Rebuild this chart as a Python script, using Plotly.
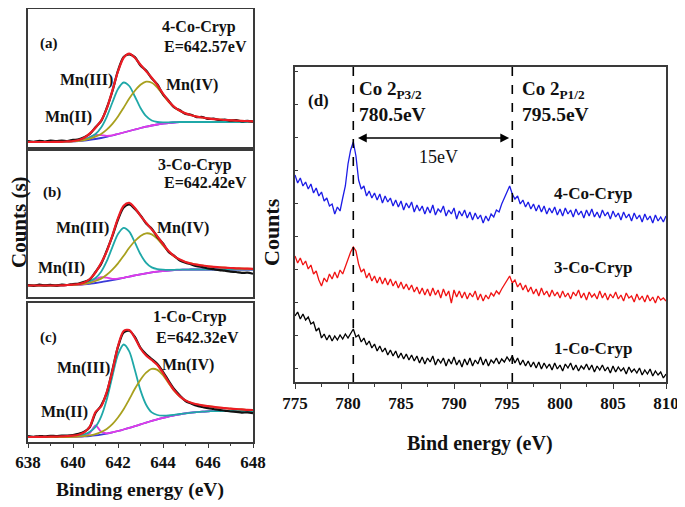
import plotly.graph_objects as go

# ---------------- Mn 2p3/2 panels (a,b,c) : 638..648 eV, step 0.25 ----------------
E_MN_START, E_MN_STEP = 638.0, 0.25

bg_a = [5.0, 5.0, 5.0, 5.0, 5.0, 5.1, 5.2, 5.4, 5.6, 6.0, 6.5, 7.2, 8.0, 9.0, 10.2, 11.5, 13.0, 14.5, 16.0, 17.5,
        19.0, 20.3, 21.5, 22.5, 23.3, 24.0, 24.5, 24.8, 25.0, 25.0, 25.0, 25.0, 25.0, 25.0, 25.0, 25.0, 25.0, 25.0, 25.0, 25.0, 25.0]
mn2_a = [5.0, 5.0, 5.0, 5.0, 5.0, 5.1, 5.2, 5.4, 5.6, 6.2, 7.5, 10.0, 12.0, 11.8, 11.2, 11.7, 13.0, 14.5, 16.0, 17.5,
         19.0, 20.3, 21.5, 22.5, 23.3, 24.0, 24.5, 24.8, 25.0, 25.0, 25.0, 25.0, 25.0, 25.0, 25.0, 25.0, 25.0, 25.0, 25.0, 25.0, 25.0]
mn3_a = [5.0, 5.0, 5.0, 5.0, 5.0, 5.1, 5.2, 5.6, 5.9, 6.6, 7.8, 9.7, 13.0, 19.5, 30.2, 44.5, 58.0, 64.5, 61.0, 50.5,
         39.0, 30.8, 26.5, 25.0, 24.6, 24.6, 24.8, 25.0, 25.0, 25.0, 25.0, 25.0, 25.0, 25.0, 25.0, 25.0, 25.0, 25.0, 25.0, 25.0, 25.0]
mn4_a = [5.0, 5.0, 5.0, 5.0, 5.0, 5.1, 5.2, 5.4, 5.7, 6.2, 7.0, 8.3, 10.3, 13.1, 17.4, 23.2, 30.6, 39.3, 48.4, 56.2,
         62.2, 65.3, 64.3, 59.4, 52.1, 45.2, 39.8, 36.1, 33.6, 31.8, 30.4, 29.5, 28.6, 27.9, 27.5, 27.0, 26.7, 26.4, 26.1, 25.9, 25.7]
fit_a = [5.0, 5.0, 5.0, 5.0, 5.0, 5.1, 5.2, 5.6, 6.0, 7.0, 9.3, 13.6, 19.3, 26.4, 38.4, 56.4, 75.6, 89.3, 93.4, 89.2,
         82.2, 75.8, 69.3, 61.9, 53.4, 45.8, 40.1, 36.2, 33.6, 31.8, 30.4, 29.5, 28.6, 27.9, 27.5, 27.0, 26.7, 26.4, 26.1, 25.9, 25.7]
raw_a = [6.0, 5.2, 6.1, 5.5, 6.3, 5.8, 6.5, 6.0, 7.1, 7.6, 9.8, 13.1, 19.8, 25.9, 39.0, 55.8, 76.3, 90.1, 92.6, 89.8,
         81.5, 76.4, 68.6, 62.5, 52.7, 46.4, 39.5, 36.8, 33.0, 32.3, 29.8, 30.0, 28.1, 28.3, 27.0, 27.4, 26.3, 26.8, 25.6, 26.2, 25.3]

bg_b = [11.5, 11.5, 11.5, 11.5, 11.5, 11.5, 11.6, 11.8, 12.0, 12.2, 12.6, 13.2, 14.0, 14.8, 15.8, 16.9, 18.0, 19.2, 20.4, 21.6,
        22.7, 23.7, 24.6, 25.4, 26.0, 26.5, 26.9, 27.2, 27.4, 27.5, 27.5, 27.5, 27.5, 27.5, 27.5, 27.5, 27.5, 27.5, 27.5, 27.5, 27.5]
mn2_b = [11.5, 11.5, 11.5, 11.5, 11.5, 11.5, 11.6, 11.8, 12.0, 12.2, 12.9, 14.5, 17.5, 19.8, 19.3, 18.2, 18.3, 19.2, 20.4, 21.6,
         22.7, 23.7, 24.6, 25.4, 26.0, 26.5, 26.9, 27.2, 27.4, 27.5, 27.5, 27.5, 27.5, 27.5, 27.5, 27.5, 27.5, 27.5, 27.5, 27.5, 27.5]
mn3_b = [11.5, 11.5, 11.5, 11.5, 11.5, 11.5, 11.6, 12.0, 12.3, 12.8, 13.9, 15.7, 19.0, 25.3, 35.8, 49.9, 63.0, 69.2, 65.4, 54.6,
         42.7, 34.2, 29.6, 27.9, 27.3, 27.1, 27.2, 27.4, 27.4, 27.5, 27.5, 27.5, 27.5, 27.5, 27.5, 27.5, 27.5, 27.5, 27.5, 27.5, 27.5]
mn4_b = [11.5, 11.5, 11.5, 11.5, 11.5, 11.5, 11.6, 11.8, 12.1, 12.4, 13.1, 14.2, 16.0, 18.4, 22.2, 27.3, 33.6, 41.2, 49.2, 56.0,
         61.1, 63.7, 62.6, 58.2, 51.6, 45.3, 40.5, 37.2, 35.0, 33.5, 32.3, 31.5, 30.7, 30.1, 29.7, 29.3, 29.0, 28.7, 28.5, 28.3, 28.1]
fit_b = [11.5, 11.5, 11.5, 11.5, 11.5, 11.5, 11.6, 12.0, 12.4, 13.0, 14.6, 18.0, 24.5, 33.9, 45.7, 61.6, 78.9, 91.2, 94.2, 89.0,
         81.1, 74.2, 67.6, 60.7, 52.9, 45.9, 40.8, 37.4, 35.0, 33.5, 32.3, 31.5, 30.7, 30.1, 29.7, 29.3, 29.0, 28.7, 28.5, 28.3, 28.1]
raw_b = [12.0, 11.2, 12.3, 11.6, 12.1, 11.4, 12.4, 12.0, 13.0, 13.4, 15.1, 17.6, 25.0, 33.1, 46.3, 60.8, 77.5, 89.6, 92.5, 88.1,
         81.6, 73.5, 68.3, 60.0, 53.5, 45.1, 41.2, 36.5, 34.2, 32.6, 30.8, 29.9, 28.6, 27.8, 26.9, 26.3, 25.4, 25.0, 24.1, 24.3, 23.2]

bg_c = [5.0, 5.0, 5.0, 5.0, 5.0, 5.0, 5.0, 5.0, 5.1, 5.3, 5.6, 6.0, 6.6, 7.4, 8.4, 9.6, 11.0, 12.5, 14.1, 15.8,
        17.6, 19.4, 21.1, 22.7, 24.2, 25.5, 26.7, 27.7, 28.6, 29.3, 29.9, 30.4, 30.7, 30.9, 31.0, 31.0, 31.0, 31.0, 31.0, 31.0, 31.0]
mn2_c = [5.0, 5.0, 5.0, 5.0, 5.0, 5.0, 5.0, 5.0, 5.1, 5.3, 5.9, 9.0, 16.6, 10.4, 8.7, 9.6, 11.0, 12.5, 14.1, 15.8,
         17.6, 19.4, 21.1, 22.7, 24.2, 25.5, 26.7, 27.7, 28.6, 29.3, 29.9, 30.4, 30.7, 30.9, 31.0, 31.0, 31.0, 31.0, 31.0, 31.0, 31.0]
mn3_c = [5.0, 5.0, 5.0, 5.0, 5.0, 5.0, 5.0, 5.3, 5.6, 6.3, 7.7, 10.3, 15.1, 25.3, 42.4, 65.7, 87.5, 97.5, 90.6, 71.9,
         51.6, 37.3, 29.6, 27.0, 26.3, 26.5, 27.2, 28.0, 28.6, 29.3, 29.9, 30.4, 30.7, 30.9, 31.0, 31.0, 31.0, 31.0, 31.0, 31.0, 31.0]
mn4_c = [5.0, 5.0, 5.0, 5.0, 5.0, 5.0, 5.0, 5.0, 5.1, 5.4, 5.9, 6.6, 7.9, 10.0, 13.1, 17.9, 24.5, 32.8, 42.7, 53.2,
         62.3, 69.3, 73.1, 72.1, 66.8, 58.8, 51.1, 45.4, 41.6, 39.2, 37.7, 36.6, 35.9, 35.1, 34.4, 33.9, 33.3, 32.9, 32.6, 32.2, 32.0]
fit_c = [5.0, 5.0, 5.1, 5.2, 5.3, 5.4, 5.6, 5.8, 6.3, 7.3, 9.6, 15.5, 30.0, 35.5, 50.0, 71.0, 96.0, 111.0, 112.0, 104.0,
         93.5, 86.5, 82.0, 77.0, 69.0, 60.0, 51.6, 45.7, 41.6, 39.2, 37.7, 36.6, 35.9, 35.1, 34.4, 33.9, 33.3, 32.9, 32.6, 32.2, 32.0]
raw_c = [5.8, 5.1, 6.0, 5.6, 6.2, 5.9, 6.4, 6.5, 7.0, 8.1, 10.2, 15.0, 29.0, 36.5, 49.2, 72.0, 95.1, 109.5, 111.2, 105.0,
         94.2, 87.8, 83.0, 78.1, 70.2, 61.2, 52.8, 46.5, 41.0, 38.5, 36.2, 35.0, 33.8, 33.0, 32.1, 31.4, 30.5, 30.2, 29.4, 29.6, 28.8]

mn_ticks = [638, 640, 642, 644, 646, 648]

# ---------------- Co 2p panel (d) : 775..810 eV, step 0.25 ----------------
E_CO_START, E_CO_STEP = 775.0, 0.25

co_4 = [207, 199, 204, 196, 200, 193, 198, 189,
        194, 186, 190, 181, 184, 176, 178, 168,
        175, 171, 184, 196, 218, 232, 240, 226,
        202, 193, 196, 186, 191, 184, 189, 182,
        188, 179, 186, 180, 184, 176, 182, 175,
        181, 172, 179, 174, 180, 170, 177, 171,
        176, 168, 175, 169, 177, 167, 173, 170,
        176, 166, 172, 168, 174, 163, 171, 166,
        172, 164, 170, 162, 169, 163, 167, 159,
        166, 161, 168, 165, 172, 170, 178, 185,
        190, 196, 188, 183, 186, 178, 182, 175,
        180, 173, 178, 171, 177, 170, 176, 168,
        174, 169, 175, 167, 173, 166, 174, 168,
        172, 165, 173, 167, 171, 164, 172, 166,
        173, 165, 170, 164, 172, 166, 170, 163,
        171, 165, 169, 162, 170, 164, 168, 161,
        169, 163, 167, 160, 168, 162, 166, 159,
        167, 161, 165, 160, 166]
co_3 = [126, 119, 124, 117, 121, 113, 117, 108,
        111, 102, 96, 104, 100, 108, 103, 110,
        104, 112, 108, 116, 122, 130, 135, 131,
        118, 110, 113, 104, 109, 101, 106, 99,
        105, 98, 104, 97, 103, 96, 101, 94,
        100, 93, 98, 92, 97, 90, 95, 88,
        94, 87, 93, 86, 94, 87, 92, 84,
        93, 86, 91, 79, 92, 85, 91, 84,
        90, 83, 89, 85, 91, 82, 88, 81,
        87, 83, 89, 86, 91, 88, 93, 97,
        101, 106, 99, 102, 95, 99, 92, 97,
        90, 95, 88, 93, 86, 94, 87, 91,
        85, 92, 86, 90, 84, 91, 85, 89,
        83, 90, 86, 92, 84, 89, 82, 90,
        85, 88, 83, 91, 84, 89, 82, 88,
        84, 90, 83, 87, 81, 89, 84, 86,
        80, 88, 82, 86, 80, 87, 81, 85,
        79, 86, 82, 84, 81]
co_1 = [66, 70, 63, 68, 62, 65, 58, 60,
        51, 54, 44, 48, 42, 47, 41, 46,
        42, 47, 43, 48, 44, 49, 53, 45,
        47, 40, 44, 37, 41, 34, 38, 31,
        36, 30, 34, 27, 32, 26, 31, 24,
        29, 23, 28, 22, 27, 21, 26, 19,
        25, 18, 24, 20, 26, 17, 23, 19,
        24, 16, 23, 18, 25, 17, 22, 15,
        23, 17, 24, 16, 22, 18, 25, 17,
        23, 16, 22, 19, 24, 18, 23, 20,
        25, 21, 26, 19, 24, 17, 22, 16,
        21, 15, 20, 14, 20, 13, 19, 14,
        18, 12, 19, 13, 17, 11, 18, 14,
        19, 12, 17, 11, 16, 13, 18, 12,
        17, 10, 16, 12, 17, 11, 15, 9,
        16, 10, 15, 11, 14, 8, 15, 10,
        13, 9, 14, 7, 12, 8, 13, 6,
        11, 7, 10, 4, 8]
co_peaks = [780.5, 795.5]
co_ticks = [775, 780, 785, 790, 795, 800, 805, 810]

e_mn = [E_MN_START + E_MN_STEP * i for i in range(len(raw_a))]
e_co = [E_CO_START + E_CO_STEP * i for i in range(len(co_4))]

FONT = "Liberation Serif"
C_BG, C_MN2, C_MN3, C_MN4, C_RAW, C_FIT = "#3a3ad8", "#e23ae8", "#1fa8a8", "#a8a01e", "#111111", "#ec1c24"

fig = go.Figure()
panels = [
    ("", bg_a, mn2_a, mn3_a, mn4_a, raw_a, fit_a),
    ("2", bg_b, mn2_b, mn3_b, mn4_b, raw_b, fit_b),
    ("3", bg_c, mn2_c, mn3_c, mn4_c, raw_c, fit_c),
]
for suf, bg, m2, m3, m4, raw, fit in panels:
    xa, ya = "x" + suf, "y" + suf
    for ys, col, w in [(bg, C_BG, 1.8), (m2, C_MN2, 1.8), (m3, C_MN3, 1.8), (m4, C_MN4, 1.8),
                       (raw, C_RAW, 2.2), (fit, C_FIT, 2.2)]:
        fig.add_trace(go.Scatter(x=e_mn, y=ys, mode="lines", xaxis=xa, yaxis=ya,
                                 line=dict(color=col, width=w, shape="spline", smoothing=0.8),
                                 showlegend=False, hoverinfo="skip"))

for ys, col in [(co_4, "#1c1ce6"), (co_3, "#f01414"), (co_1, "#000000")]:
    fig.add_trace(go.Scatter(x=e_co, y=ys, mode="lines", xaxis="x4", yaxis="y4",
                             line=dict(color=col, width=1.3), showlegend=False, hoverinfo="skip"))

# the page puts the figure 8 px from the window's top-left corner
OFF = 8
W, H = 685 - OFF, 507 - OFF
def clamp(v):
    return max(0.0, min(1.0, v))
def px_x(a, b):
    return [clamp((a - OFF) / W), clamp((b - OFF) / W)]
def px_y(top, bot):
    return [clamp(1 - (bot - OFF) / H), clamp(1 - (top - OFF) / H)]

frame = dict(showline=True, linecolor="#3a3a3a", linewidth=1.5, mirror=True, zeroline=False,
             showgrid=False, automargin=False)
tickfont = dict(family=FONT, size=17, color="#111", weight="bold")

lx = px_x(28, 253)
fig.update_layout(
    width=W, height=H, margin=dict(l=0, r=0, t=0, b=0, pad=0, autoexpand=False),
    paper_bgcolor="white", plot_bgcolor="white", showlegend=False,
    xaxis=dict(domain=lx, range=[638, 648], anchor="y", showticklabels=False, ticks="", **frame),
    yaxis=dict(domain=px_y(9, 147), range=[0, 138], anchor="x", showticklabels=False, ticks="", **frame),
    xaxis2=dict(domain=lx, range=[638, 648], anchor="y2", showticklabels=False, ticks="", **frame),
    yaxis2=dict(domain=px_y(151, 297), range=[0, 146], anchor="x2", showticklabels=False, ticks="", **frame),
    xaxis3=dict(domain=lx, range=[638, 648], anchor="y3", tickvals=mn_ticks,
                ticktext=["<b>%d</b>" % t for t in mn_ticks], ticks="outside", ticklen=4,
                tickcolor="#3a3a3a", tickfont=tickfont,
                minor=dict(dtick=1, ticks="outside", ticklen=2, tickcolor="#3a3a3a"), **frame),
    yaxis3=dict(domain=px_y(303, 442), range=[0, 139], anchor="x3", showticklabels=False, ticks="", **frame),
    xaxis4=dict(domain=px_x(295, 666), range=[775, 810], anchor="y4", tickvals=co_ticks,
                ticktext=["<b>%d</b>" % t for t in co_ticks], ticks="outside",
                ticklen=5, tickcolor="#3a3a3a", tickfont=tickfont,
                minor=dict(dtick=2.5, ticks="outside", ticklen=3, tickcolor="#3a3a3a"), **frame),
    yaxis4=dict(domain=px_y(67, 382), range=[0, 315], anchor="x4", showticklabels=False, ticks="inside",
                ticklen=3, tickcolor="#3a3a3a", tick0=14, dtick=33, **frame),
)

for xv in co_peaks:
    fig.add_shape(type="line", x0=xv, x1=xv, y0=0, y1=1, xref="x4", yref="y4 domain",
                  line=dict(color="black", width=1.6, dash="dash"))

def ann(text, x, y, xr, yr, size=16, anchor="center", bold=True):
    fig.add_annotation(text=("<b>%s</b>" % text) if bold else text, x=x, y=y, xref=xr, yref=yr,
                       showarrow=False, xanchor=anchor, yanchor="middle",
                       font=dict(family=FONT, size=size, color="#111"))

# panel (a)
ann("(a)", 638.95, 104, "x", "y", 15)
ann("4-Co-Cryp", 645.6, 120, "x", "y")
ann("E=642.57eV", 645.9, 101, "x", "y")
ann("Mn(III)", 640.6, 67, "x", "y")
ann("Mn(IV)", 645.3, 62, "x", "y")
ann("Mn(II)", 639.8, 30, "x", "y")
# panel (b)
ann("(b)", 639.05, 104, "x2", "y2", 15)
ann("3-Co-Cryp", 645.4, 132, "x2", "y2")
ann("E=642.42eV", 645.9, 114, "x2", "y2")
ann("Mn(III)", 640.4, 69, "x2", "y2")
ann("Mn(IV)", 644.9, 69, "x2", "y2")
ann("Mn(II)", 639.5, 29, "x2", "y2")
# panel (c)
ann("(c)", 638.9, 105, "x3", "y3", 15)
ann("1-Co-Cryp", 645.2, 125, "x3", "y3")
ann("E=642.32eV", 645.55, 105, "x3", "y3")
ann("Mn(III)", 640.45, 74, "x3", "y3")
ann("Mn(IV)", 645.1, 77, "x3", "y3")
ann("Mn(II)", 639.6, 30, "x3", "y3")
# panel (d)
ann("(d)", 777.2, 282, "x4", "y4", 17)
ann("Co 2<sub>P3/2</sub>", 780.85, 292, "x4", "y4", 19, "left")
ann("780.5eV", 780.85, 268, "x4", "y4", 19.5, "left")
ann("Co 2<sub>P1/2</sub>", 796.2, 292, "x4", "y4", 19, "left")
ann("795.5eV", 796.2, 268, "x4", "y4", 19.5, "left")
ann("15eV", 788.5, 225, "x4", "y4", 18, bold=False)
ann("4-Co-Cryp", 803.1, 189, "x4", "y4", 17)
ann("3-Co-Cryp", 803.1, 115, "x4", "y4", 17)
ann("1-Co-Cryp", 803.1, 34, "x4", "y4", 17)
fig.add_annotation(x=795.2, y=244, ax=780.8, ay=244, xref="x4", yref="y4", axref="x4", ayref="y4",
                   text="", showarrow=True, arrowhead=2, startarrowhead=2, arrowside="end+start",
                   arrowwidth=1.6, arrowsize=1.1, arrowcolor="black")

# axis titles
def title(text, x, y, angle=0, size=20):
    fig.add_annotation(text="<b>%s</b>" % text, x=(x - OFF) / W, y=1 - (y - OFF) / H,
                       xref="paper", yref="paper",
                       showarrow=False, textangle=angle, xanchor="center", yanchor="middle",
                       font=dict(family=FONT, size=size, color="#111"))

title("Binding energy (eV)", 140, 490, size=19.5)
title("Bind energy (eV)", 480, 443)
title("Counts (s)", 19, 222, -90, 21)
title("Counts", 271, 232, -90, 22)

fig.write_html("out.html")
